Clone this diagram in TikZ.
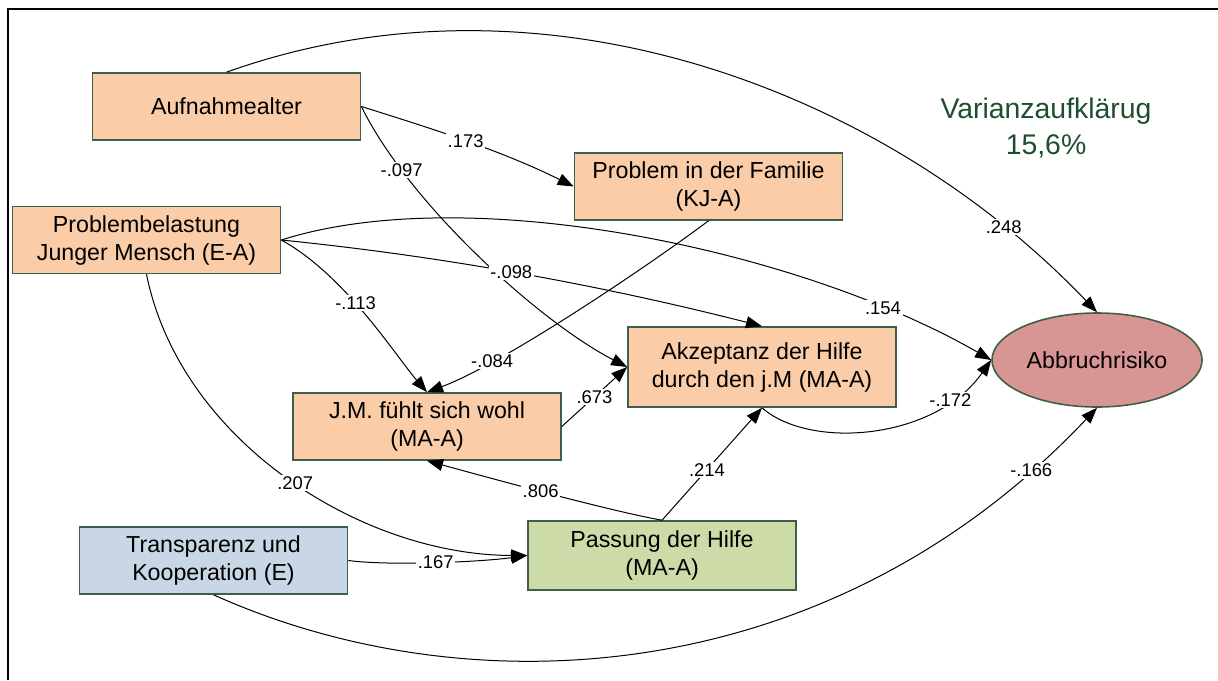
\documentclass[tikz,border=0pt]{standalone}
\usepackage{fontspec}
\setmainfont{Liberation Sans}
\usetikzlibrary{arrows.meta,shapes.geometric}

\definecolor{peach}{RGB}{250,204,167}
\definecolor{paleblue}{RGB}{200,214,229}
\definecolor{palegreen}{RGB}{205,219,168}
\definecolor{rosered}{RGB}{217,149,148}
\definecolor{rimgreen}{RGB}{62,96,72}
\definecolor{textgreen}{RGB}{30,78,48}

\tikzset{
  construct/.style={draw=rimgreen, line width=0.8pt, fill=peach,
    minimum width=134pt, minimum height=33.5pt, align=center,
    inner sep=2pt, font=\fontsize{11.6}{14}\selectfont},
  conn/.style={-{Triangle[length=8pt,width=6pt]}, line width=0.5pt},
  coef/.style={fill=white, inner sep=0.8pt, font=\fontsize{9.2}{11}\selectfont},
}

\begin{document}
\begin{tikzpicture}[x=0.5pt, y=-0.5pt]
  \useasboundingbox (0,0) rectangle (1218,680);

  % Frame
  \draw[line width=1.2pt] (8,680) -- (8,9) -- (1218,9);

  % Constructs
  \node[construct] (aufn) at (226.5,106.5) {Aufnahmealter};
  \node[construct] (fam) at (708.5,186.5) {Problem in der Familie\\(KJ-A)};
  \node[construct] (belast) at (146.5,240) {Problembelastung\\Junger Mensch (E-A)};
  \node[construct, minimum height=40pt] (akz) at (762,367) {Akzeptanz der Hilfe\\durch den j.M (MA-A)};
  \node[construct] (wohl) at (427,426.5) {J.M. fühlt sich wohl\\(MA-A)};
  \node[construct, fill=palegreen, minimum height=34.5pt] (pass) at (662,555.5) {Passung der Hilfe\\(MA-A)};
  \node[construct, fill=paleblue] (transp) at (213.5,560.5) {Transparenz und\\Kooperation (E)};
  \node[construct, ellipse, fill=rosered, minimum width=101pt, minimum height=47pt] (abbr) at (1097,360) {Abbruchrisiko};

  % R squared
  \node[font=\fontsize{14.2}{18}\selectfont, text=textgreen, align=center] (rsq) at (1046,128) {Varianzaufklärug\\15,6\%};

  % Paths
  \draw[conn] (aufn.north) .. controls (540,-40) and (883,88) .. node[coef, pos=0.865] (c248) {.248} (abbr.north);
  \draw[conn] (aufn.east) .. controls (430,128) and (500,150) .. node[coef, pos=0.5] (c173) {.173} (fam.west);
  \draw[conn] (aufn.east) .. controls (410,205) and (540,322) .. node[coef, pos=0.21] (c097) {-.097} (akz.west);
  \draw[conn] (belast.east) .. controls (470,180) and (800,250) .. node[coef, pos=0.83] (c154) {.154} (abbr.west);
  \draw[conn] (belast.east) .. controls (460,258) and (620,290) .. node[coef, pos=0.45] (c098) {-.098} (akz.north);
  \draw[conn] (belast.east) .. controls (345,275) and (395,355) .. node[coef, pos=0.43] (c113) {-.113} (wohl.north);
  \draw[conn] (belast.south) .. controls (180,440) and (360,555) .. node[coef, pos=0.52] (c207) {.207} (pass.west);
  \draw[conn] (fam.south) .. controls (640,272) and (500,365) .. node[coef, pos=0.75] (c084) {-.084} (wohl.north);
  \draw[conn] (wohl.east) -- node[coef] (c673) {.673} (akz.west);
  \draw[conn] (pass.north) .. controls (610,511) and (490,478) .. node[coef, pos=0.53] (c806) {.806} (wohl.south);
  \draw[conn] (pass.north) -- node[coef, pos=0.45] (c214) {.214} (akz.south);
  \draw[conn] (akz.south) .. controls (810,450) and (935,440) .. node[coef, pos=0.8] (c172) {-.172} (abbr.west);
  \draw[conn] (transp.east) .. controls (390,566) and (480,562) .. node[coef, pos=0.5] (c167) {.167} (pass.west);
  \draw[conn] (transp.south) .. controls (470,710) and (830,690) .. node[coef, pos=0.92] (c166) {-.166} (abbr.south);
\end{tikzpicture}
\end{document}
